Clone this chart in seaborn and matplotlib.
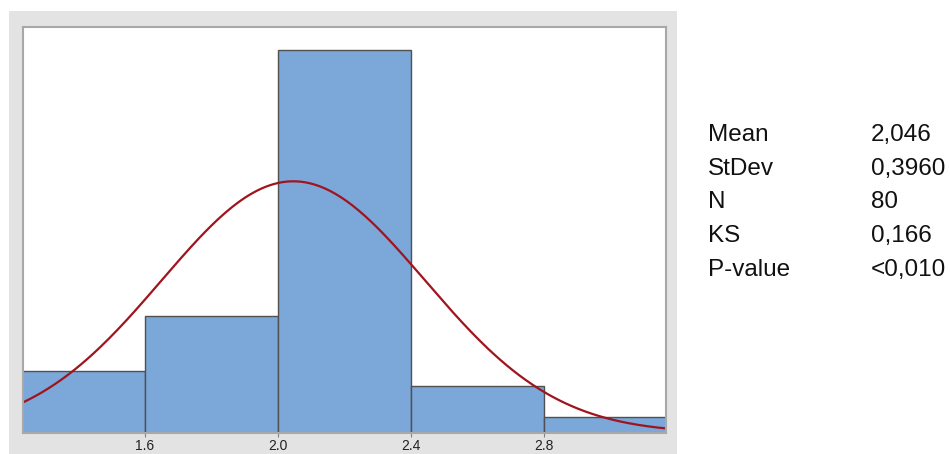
import numpy as np
import pandas as pd
import matplotlib
matplotlib.use("Agg")
import matplotlib.pyplot as plt
import seaborn as sns
from matplotlib.patches import Rectangle

# histogram bins and counts
bin_edges = [1.2, 1.6, 2.0, 2.4, 2.8, 3.2]
counts = [8, 15, 49, 6, 2]
tick_values = [1.6, 2.0, 2.4, 2.8]
tick_labels = ["1.6", "2.0", "2.4", "2.8"]

# summary statistics shown at the right
stat_names = ["Mean", "StDev", "N", "KS", "P-value"]
stat_values = ["2,046", "0,3960", "80", "0,166", "<0,010"]
mean = 2.046
stdev = 0.3960
n_obs = 80

sns.set_style("white")
plt.rcParams["font.family"] = ["Liberation Sans", "DejaVu Sans"]

fig = plt.figure(figsize=(9.5, 4.54), dpi=100)

# light gray panel behind the plot area
fig.patches.append(Rectangle((9 / 950, 0), (677 - 9) / 950, (454 - 11) / 454,
                             transform=fig.transFigure, facecolor="#E3E3E3",
                             edgecolor="none", zorder=-5))

ax = fig.add_axes([23 / 950, (454 - 433) / 454, (666 - 23) / 950, (433 - 27) / 454])
ax.set_zorder(2)
ax.set_facecolor("white")

centers = [(a + b) / 2 for a, b in zip(bin_edges[:-1], bin_edges[1:])]
df = pd.DataFrame({"value": centers, "count": counts})
sns.histplot(data=df, x="value", weights="count", bins=bin_edges, ax=ax,
             color="#7BA7D9", alpha=1, edgecolor="#505050", linewidth=1)

# fitted normal curve from the reported mean and stdev
bin_width = bin_edges[1] - bin_edges[0]
xs = np.linspace(1.233, 3.167, 300)
ys = n_obs * bin_width * np.exp(-0.5 * ((xs - mean) / stdev) ** 2) / (stdev * np.sqrt(2 * np.pi))
sns.lineplot(x=xs, y=ys, ax=ax, color="#A0141E", linewidth=1.6)

ax.set_xlim(1.233, 3.167)
ax.set_ylim(0, 52)
ax.set_xticks(tick_values)
ax.set_xticklabels(tick_labels, fontsize=10, color="#222222")
ax.set_yticks([])
ax.set_xlabel("")
ax.set_ylabel("")
ax.tick_params(axis="x", length=3, width=0.8, color="#808080", pad=1, bottom=True)
for side in ax.spines:
    ax.spines[side].set_color("#A8A8A8")
    ax.spines[side].set_linewidth(1.5)

for i, (name, val) in enumerate(zip(stat_names, stat_values)):
    y = (454 - (135 + i * 33.7)) / 454
    fig.text(708 / 950, y, name, fontsize=17.5, va="center", ha="left", color="#111111")
    fig.text(871 / 950, y, val, fontsize=17.5, va="center", ha="left", color="#111111")

fig.savefig("out.png", dpi=100)
